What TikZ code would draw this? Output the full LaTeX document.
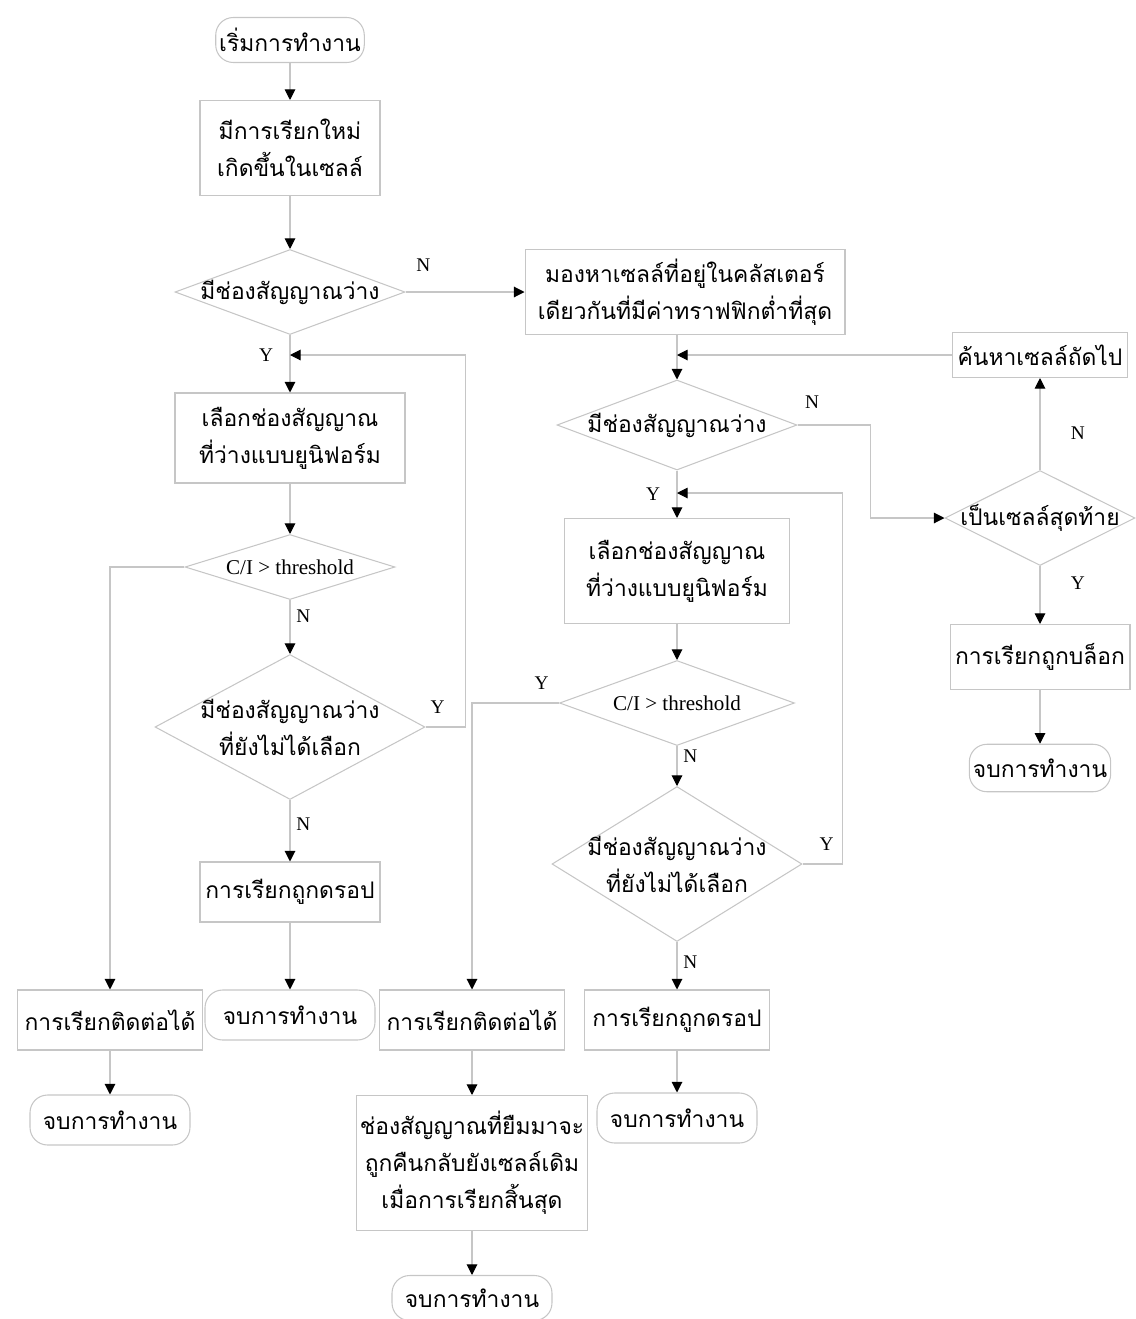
\documentclass[tikz,border=0pt]{standalone}
\usepackage{fontspec}
\setmainfont{Liberation Serif}
\newfontfamily\thaifont[Script=Thai]{Loma}
\usetikzlibrary{arrows.meta, shapes.geometric, calc}

\begin{document}
\begin{tikzpicture}[x=0.02cm, y=-0.02cm,
  line/.style={draw=gray!45, line width=0.6pt},
  flow/.style={line, -{Triangle[length=6pt, width=6pt, color=black, fill=black]}},
  thai/.style={font=\thaifont\fontsize{13}{21}\selectfont, align=center},
  proc/.style={thai, draw=gray!45, line width=0.6pt, inner sep=2pt},
  term/.style={proc, rounded corners=10pt},
  decide/.style={diamond, draw=gray!45, line width=0.6pt, inner sep=0pt},
  citext/.style={font=\fontsize{12}{14}\selectfont},
  yn/.style={font=\fontsize{11}{13}\selectfont}]
  \useasboundingbox (0,0) rectangle (1136,1319);

  % Left column
  \node[term, minimum width=2.6cm, minimum height=0.9cm] (start) at (290,40) {เริ่มการทำงาน};
  \node[proc, minimum width=3.6cm, minimum height=1.9cm] (call) at (290,148) {มีการเรียกใหม่\\เกิดขึ้นในเซลล์};
  \node[decide, minimum width=4.6cm, minimum height=1.7cm,
    label={[thai]center:มีช่องสัญญาณว่าง}] (free1) at (290,292) {};
  \node[proc, minimum width=4.6cm, minimum height=1.8cm] (pick1) at (290,438) {เลือกช่องสัญญาณ\\ที่ว่างแบบยูนิฟอร์ม};
  \node[decide, minimum width=4.2cm, minimum height=1.3cm,
    label={[citext]center:C/I > threshold}] (ci1) at (290,567) {};
  \node[decide, minimum width=5.4cm, minimum height=2.9cm,
    label={[thai]center:{มีช่องสัญญาณว่าง\\ที่ยังไม่ได้เลือก}}] (more1) at (290,727) {};
  \node[proc, minimum width=3.6cm, minimum height=1.2cm] (drop1) at (290,892) {การเรียกถูกดรอป};
  \node[term, minimum width=3.4cm, minimum height=1.0cm] (end1) at (290,1015) {จบการทำงาน};
  \node[proc, minimum width=3.7cm, minimum height=1.2cm] (ok1) at (110,1020) {การเรียกติดต่อได้};
  \node[term, minimum width=3.2cm, minimum height=1.0cm] (end0) at (110,1120) {จบการทำงาน};

  % Middle column
  \node[proc, minimum width=6.4cm, minimum height=1.7cm] (look) at (685,292) {มองหาเซลล์ที่อยู่ในคลัสเตอร์\\เดียวกันที่มีค่าทราฟฟิกต่ำที่สุด};
  \node[decide, minimum width=4.8cm, minimum height=1.8cm,
    label={[thai]center:มีช่องสัญญาณว่าง}] (free2) at (677,425) {};
  \node[proc, minimum width=4.5cm, minimum height=2.1cm] (pick2) at (677,571) {เลือกช่องสัญญาณ\\ที่ว่างแบบยูนิฟอร์ม};
  \node[decide, minimum width=4.7cm, minimum height=1.7cm,
    label={[citext]center:C/I > threshold}] (ci2) at (677,703) {};
  \node[decide, minimum width=5.0cm, minimum height=3.1cm,
    label={[thai]center:{มีช่องสัญญาณว่าง\\ที่ยังไม่ได้เลือก}}] (more2) at (677,864) {};
  \node[proc, minimum width=3.7cm, minimum height=1.2cm] (drop2) at (677,1020) {การเรียกถูกดรอป};
  \node[term, minimum width=3.2cm, minimum height=1.0cm] (end2) at (677,1118) {จบการทำงาน};
  \node[proc, minimum width=3.7cm, minimum height=1.2cm] (ok2) at (472,1020) {การเรียกติดต่อได้};
  \node[proc, minimum width=4.1cm, minimum height=2.7cm] (ret) at (472,1163) {ช่องสัญญาณที่ยืมมาจะ\\ถูกคืนกลับยังเซลล์เดิม\\เมื่อการเรียกสิ้นสุด};
  \node[term, minimum width=3.2cm, minimum height=0.9cm] (end4) at (472,1298) {จบการทำงาน};

  % Right column
  \node[proc, minimum width=3.5cm, minimum height=0.9cm] (next) at (1040,355) {ค้นหาเซลล์ถัดไป};
  \node[decide, minimum width=3.8cm, minimum height=1.9cm,
    label={[thai]center:เป็นเซลล์สุดท้าย}] (last) at (1040,518) {};
  \node[proc, minimum width=3.6cm, minimum height=1.3cm] (block) at (1040,657) {การเรียกถูกบล็อก};
  \node[term, minimum width=2.6cm, minimum height=0.95cm] (end3) at (1040,768) {จบการทำงาน};

  % Joints on the main lines
  \coordinate (j1) at (290,355);
  \coordinate (j2) at (677,355);
  \coordinate (j3) at (677,493);

  % Connectors, left
  \draw[flow] (start) -- (call);
  \draw[flow] (call) -- (free1);
  \draw[flow] (free1.east) -- node[yn, above, pos=0.15, yshift=8pt] {N} (look.west);
  \draw[flow] (free1.south) -- node[yn, left, pos=0.35, xshift=-6pt] {Y} (pick1.north);
  \draw[flow] (pick1) -- (ci1);
  \draw[flow] (ci1.west) -| (ok1.north);
  \draw[flow] (ci1.south) -- node[yn, right, pos=0.3] {N} (more1.north);
  \draw[flow] (more1.east) -- node[yn, above, pos=0.3, yshift=4pt] {Y} ++(40,0) |- (j1);
  \draw[flow] (more1.south) -- node[yn, right, pos=0.4] {N} (drop1.north);
  \draw[flow] (drop1) -- (end1);
  \draw[flow] (ok1) -- (end0);

  % Connectors, middle
  \draw[flow] (look.south -| free2.north) -- (free2.north);
  \draw[flow] (free2.east) -- node[yn, above, pos=0.2, yshift=6pt] {N} ++(73,0) |- (last.west);
  \draw[flow] (free2.south) -- node[yn, left, pos=0.5, xshift=-6pt] {Y} (pick2.north);
  \draw[flow] (pick2) -- (ci2);
  \draw[flow] (ci2.west) -| node[yn, above, pos=0.1, yshift=4pt] {Y} (ok2.north);
  \draw[flow] (ci2.south) -- node[yn, right, pos=0.25] {N} (more2.north);
  \draw[flow] (more2.east) -- node[yn, above, pos=0.6, yshift=4pt] {Y} ++(40,0) |- (j3);
  \draw[flow] (more2.south) -- node[yn, right, pos=0.42] {N} (drop2.north);
  \draw[flow] (drop2) -- (end2);
  \draw[flow] (ok2) -- (ret);
  \draw[flow] (ret) -- (end4);

  % Connectors, right
  \draw[flow] (last.north) -- node[yn, right, pos=0.4, xshift=14pt] {N} (next.south);
  \draw[flow] (next.west) -- (j2);
  \draw[flow] (last.south) -- node[yn, right, pos=0.3, xshift=14pt] {Y} (block.north);
  \draw[flow] (block) -- (end3);
\end{tikzpicture}
\end{document}
